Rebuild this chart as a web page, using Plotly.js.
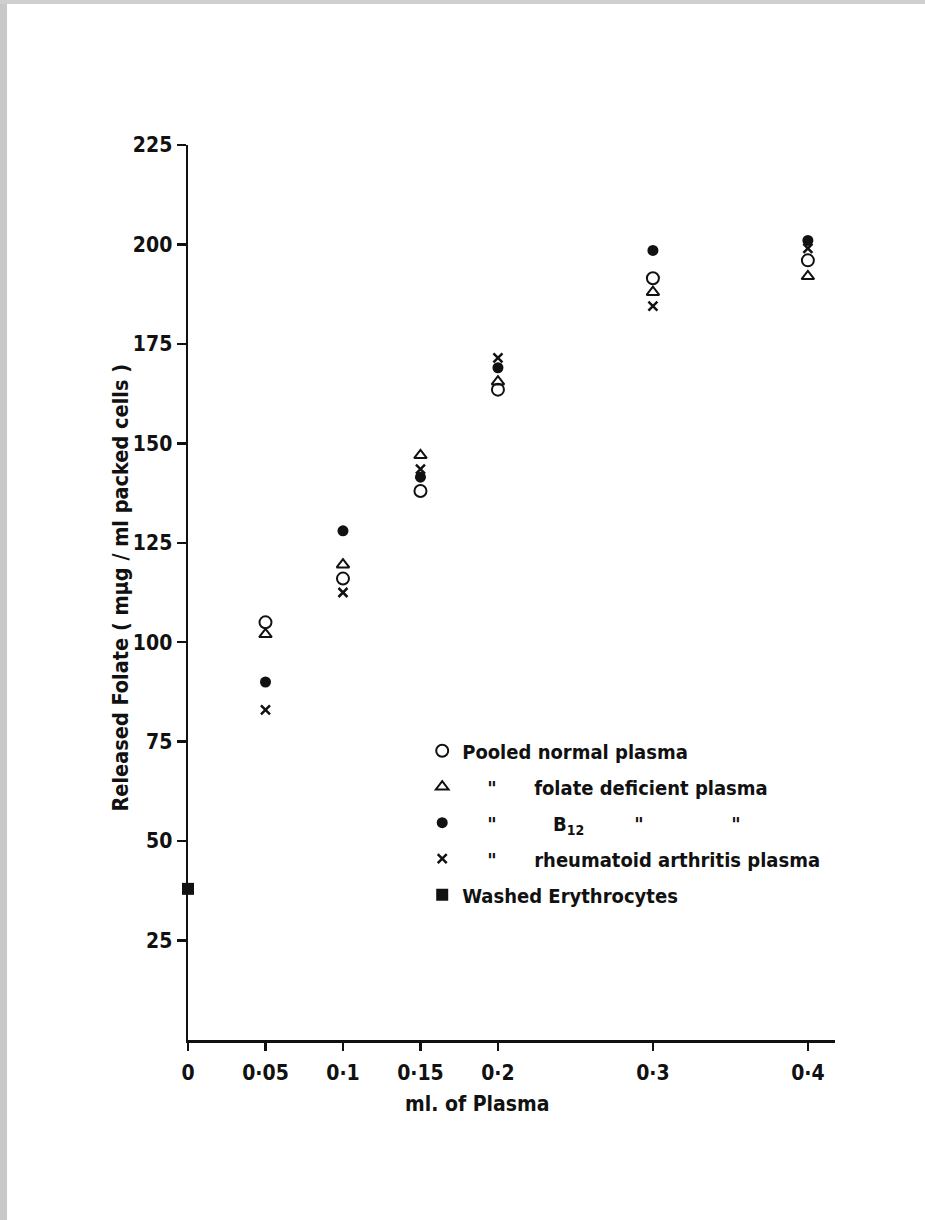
<!DOCTYPE html>
<html>
<head>
<meta charset="utf-8">
<script src="https://cdn.plot.ly/plotly-3.0.1.min.js"></script>
<style>
  html, body { margin: 0; padding: 0; background: #ffffff; }
  #chart { width: 925px; height: 1220px; }
  #edgeL { position: absolute; left: 0; top: 0; width: 7px; height: 1220px; background: #c8c8c8; }
  #edgeT { position: absolute; left: 0; top: 0; width: 925px; height: 4px; background: #cfcfcf; }
</style>
</head>
<body>
<div id="chart"></div>
<div id="edgeL"></div>
<div id="edgeT"></div>
<script>
// Plasma volume (ml)
const plasmaVolumes = [0.05, 0.1, 0.15, 0.2, 0.3, 0.4];
// Released folate (mμg / ml packed cells)
const pooledNormal      = [105, 116, 138, 163.5, 191.5, 196];
const folateDeficient   = [102, 119.5, 147, 165.5, 188, 192];
const b12Deficient      = [90, 128, 141.5, 169, 198.5, 201];
const rheumatoid        = [83, 112.5, 143.5, 171.5, 184.5, 199];
const washedX           = [0];
const washedY           = [38];

const xTickVals   = [0, 0.05, 0.1, 0.15, 0.2, 0.3, 0.4];
const xTickLabels = ['0', '0·05', '0·1', '0·15', '0·2', '0·3', '0·4'];
const yTickVals   = [25, 50, 75, 100, 125, 150, 175, 200, 225];

const FONT = '"DejaVu Sans Condensed", "Liberation Sans", sans-serif';
const SP = '\u00a0';

const traces = [
  { x: plasmaVolumes, y: pooledNormal, name: 'Pooled normal plasma', legendgroup: 'a',
    marker: { symbol: 'circle-open', size: 12, color: '#111', line: { width: 2, color: '#111' } } },
  { x: plasmaVolumes, y: folateDeficient, name: SP.repeat(4) + '"' + SP.repeat(6) + 'folate deficient plasma', legendgroup: 'b',
    marker: { symbol: 'triangle-up-open', size: 11, color: '#111', line: { width: 2, color: '#111' } } },
  { x: plasmaVolumes, y: b12Deficient, name: SP.repeat(4) + '"' + SP.repeat(9) + 'B<sub>12</sub>' + SP.repeat(8) + '"' + SP.repeat(14) + '"', legendgroup: 'c',
    marker: { symbol: 'circle', size: 11, color: '#111' } },
  { x: plasmaVolumes, y: rheumatoid, name: SP.repeat(4) + '"' + SP.repeat(6) + 'rheumatoid arthritis plasma', legendgroup: 'd',
    marker: { symbol: 'x-thin-open', size: 9, color: '#111', line: { width: 2.5, color: '#111' } } },
  { x: washedX, y: washedY, name: 'Washed Erythrocytes', legendgroup: 'e',
    marker: { symbol: 'square', size: 12, color: '#111' } }
].map(t => Object.assign({ type: 'scatter', mode: 'markers', cliponaxis: false, hoverinfo: 'x+y' }, t));

const layout = {
  width: 925, height: 1220,
  paper_bgcolor: '#ffffff', plot_bgcolor: '#ffffff',
  margin: { l: 188, r: 90, t: 145, b: 180 },
  font: { family: FONT, color: '#111', size: 20, weight: 'bold' },
  xaxis: {
    range: [0, 0.4175], tickmode: 'array', tickvals: xTickVals, ticktext: xTickLabels,
    showline: true, linecolor: '#111', linewidth: 2.5, showgrid: false, zeroline: false,
    ticks: 'outside', ticklen: 8, tickwidth: 2.5, tickcolor: '#111',
    tickfont: { family: FONT, size: 21, weight: 'bold', color: '#111' },
    ticklabelstandoff: 4
  },
  yaxis: {
    range: [0, 225], tickmode: 'array', tickvals: yTickVals,
    showline: true, linecolor: '#111', linewidth: 2.5, showgrid: false, zeroline: false,
    ticks: 'outside', ticklen: 9, tickwidth: 2.5, tickcolor: '#111',
    tickfont: { family: FONT, size: 21, weight: 'bold', color: '#111' }
  },
  showlegend: true,
  legend: {
    x: 0.362, y: 0.345, xanchor: 'left', yanchor: 'top',
    bgcolor: 'rgba(0,0,0,0)', borderwidth: 0,
    traceorder: 'grouped', tracegroupgap: 7,
    font: { family: FONT, size: 20, weight: 'bold', color: '#111' },
    itemwidth: 30
  },
  annotations: [
    { text: 'Released Folate ( mμg / ml packed cells )', xref: 'paper', yref: 'paper',
      x: -0.105, y: 0.5056, xanchor: 'center', yanchor: 'middle', textangle: -90, showarrow: false,
      font: { family: FONT, size: 21.5, weight: 'bold', color: '#111' } },
    { text: 'ml. of Plasma', xref: 'paper', yref: 'paper',
      x: 0.447, y: -0.0715, xanchor: 'center', yanchor: 'middle', showarrow: false,
      font: { family: FONT, size: 21, weight: 'bold', color: '#111' } }
  ]
};

Plotly.newPlot('chart', traces, layout, { displayModeBar: false, staticPlot: true });
</script>
</body>
</html>
